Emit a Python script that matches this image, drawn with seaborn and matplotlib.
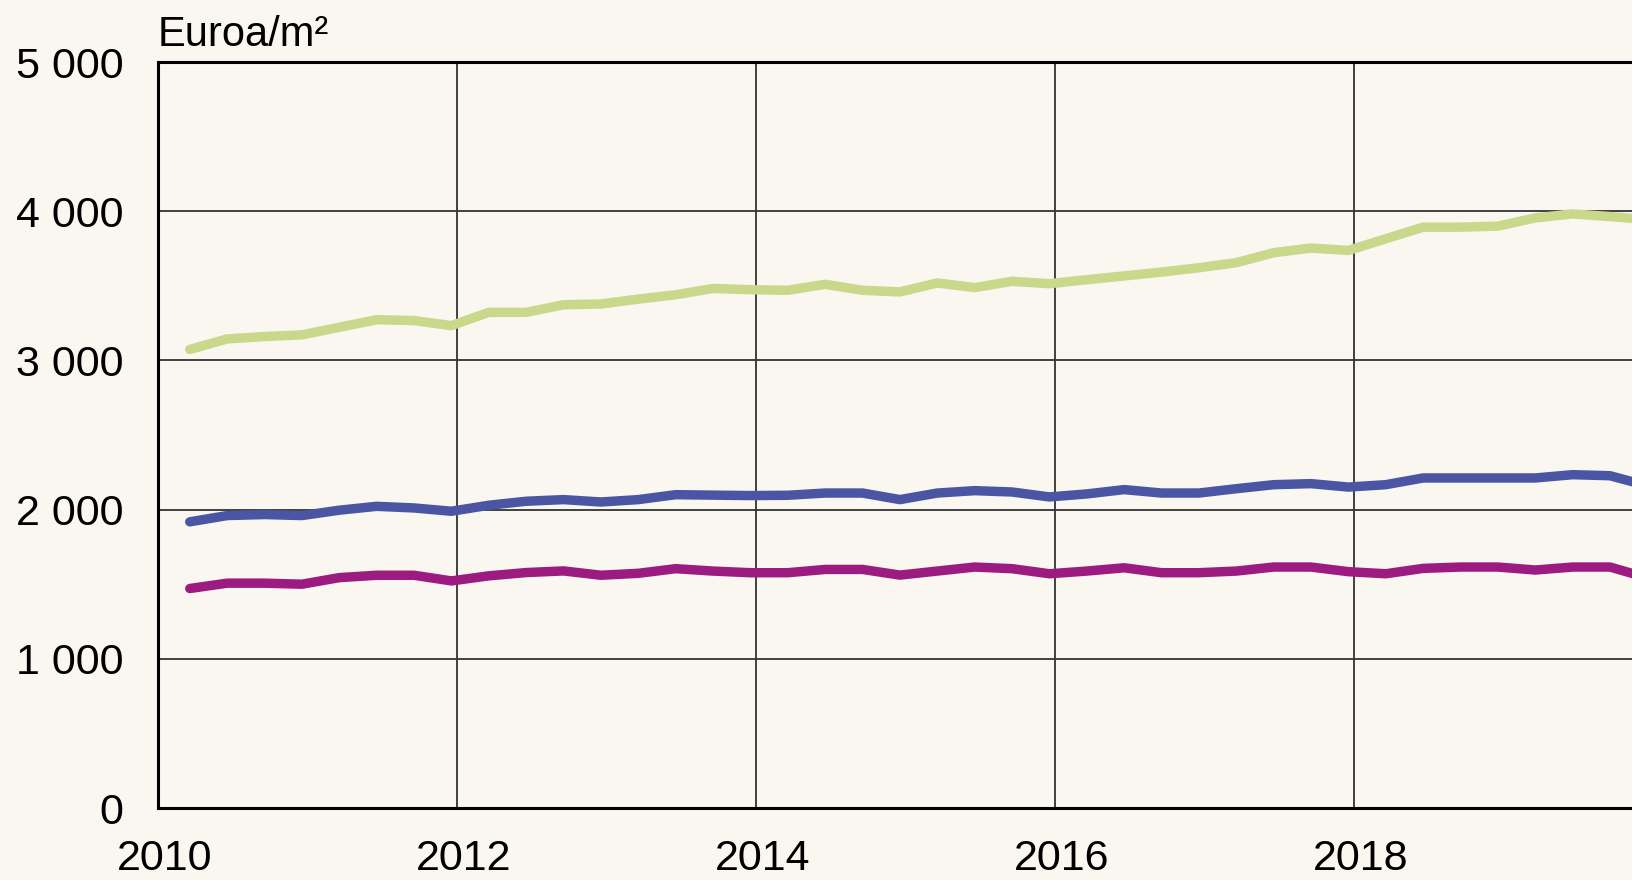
import numpy as np
import pandas as pd
import seaborn as sns
import matplotlib
matplotlib.use("Agg")
import matplotlib.pyplot as plt
import matplotlib.transforms as mtransforms
from matplotlib.ticker import FuncFormatter

# ==================================================
# data (quarterly, 2010Q1 - 2019Q4), euro / m2
# ==================================================
years = [y for y in range(2010, 2020) for _ in range(4)]
quarters = [1, 2, 3, 4] * 10

green_vals = [3073, 3144, 3160, 3171, 3222, 3273, 3267, 3233,
              3322, 3322, 3373, 3378, 3411, 3440, 3482, 3474,
              3470, 3510, 3470, 3459, 3519, 3488, 3530, 3514,
              3541, 3566, 3592, 3621, 3655, 3722, 3753, 3737,
              3815, 3893, 3893, 3900, 3955, 3982, 3964, 3944]
blue_vals = [1918, 1960, 1967, 1960, 1996, 2022, 2011, 1989,
             2029, 2056, 2067, 2051, 2067, 2100, 2097, 2094,
             2096, 2111, 2111, 2067, 2111, 2127, 2118, 2085,
             2105, 2134, 2111, 2111, 2140, 2167, 2174, 2151,
             2167, 2212, 2212, 2212, 2212, 2234, 2227, 2160]
purple_vals = [1471, 1507, 1507, 1500, 1544, 1560, 1560, 1522,
               1556, 1578, 1589, 1560, 1573, 1604, 1588, 1577,
               1577, 1599, 1599, 1561, 1588, 1615, 1604, 1570,
               1588, 1610, 1577, 1577, 1588, 1615, 1615, 1584,
               1570, 1606, 1615, 1615, 1595, 1615, 1615, 1543]

series_names = ["green", "blue", "purple"]
colors = ["#C9D88A", "#4A55A4", "#9B1B80"]

# ==================================================
# long table for seaborn
# ==================================================
x_time = [y + (q - 0.15) / 4 for y, q in zip(years, quarters)]
df = pd.concat([
    pd.DataFrame({"aika": x_time, "hinta": vals, "sarja": name})
    for name, vals in zip(series_names, [green_vals, blue_vals, purple_vals])
])

# ==================================================
# figure
# ==================================================
sns.set_theme(style="white")
plt.rcParams["font.family"] = ["Liberation Sans", "DejaVu Sans"]

bg = "#FAF6F0"
fig = plt.figure(figsize=(16.32, 8.8), dpi=100, facecolor=bg)
ax = fig.add_axes([158 / 1632, 1 - 808 / 880, (1632 - 158) / 1632, (808 - 62) / 880])
ax.set_facecolor(bg)

sns.lineplot(
    data=df, x="aika", y="hinta", hue="sarja",
    palette=colors, linewidth=6.8, legend=False, ax=ax
)

ax.set_xlim(2010, 2010 + (1632 - 158) / 149.5)
ax.set_ylim(0, 5000)
ax.set_xticks([2010, 2012, 2014, 2016, 2018])
ax.set_yticks([0, 1000, 2000, 3000, 4000, 5000])
ax.yaxis.set_major_formatter(
    FuncFormatter(lambda v, p: f"{int(v):,}".replace(",", " "))
)
ax.set_xlabel("")
ax.set_ylabel("")

ax.grid(True, color="#333333", linewidth=1.3)
ax.set_axisbelow(True)
ax.tick_params(axis="both", length=0, labelsize=31, colors="black")
ax.tick_params(axis="y", pad=25)
ax.tick_params(axis="x", pad=22)

# x labels sit a little right of their gridline
shift = mtransforms.ScaledTranslation(7 / 100, 0, fig.dpi_scale_trans)
for lbl in ax.get_xticklabels():
    lbl.set_transform(lbl.get_transform() + shift)

for side in ["left", "bottom", "top"]:
    ax.spines[side].set_visible(True)
    ax.spines[side].set_color("black")
    ax.spines[side].set_linewidth(2.2)
ax.spines["right"].set_visible(False)

fig.text(158 / 1632, 1 - 46 / 880, "Euroa/m²", fontsize=30,
         ha="left", va="baseline", color="black")

plt.savefig("out.png", dpi=100, facecolor=bg)
plt.close()
